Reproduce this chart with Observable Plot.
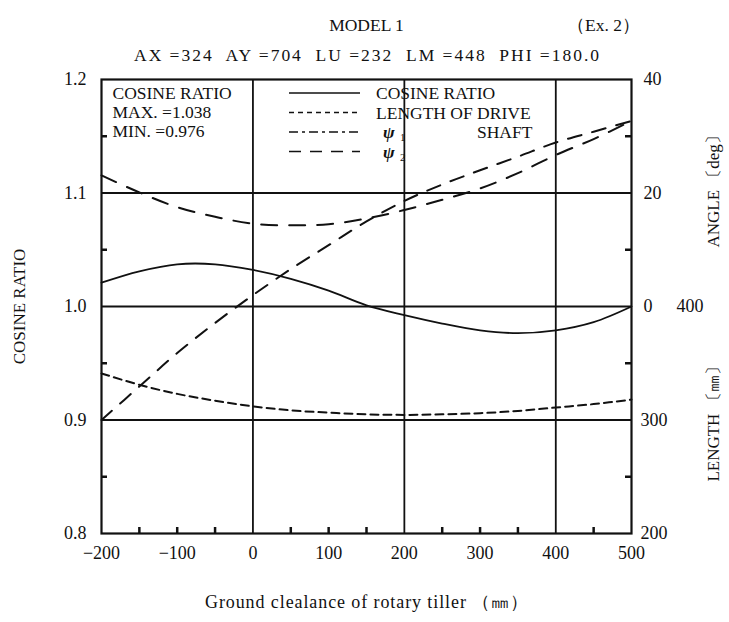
<!DOCTYPE html>
<html><head><meta charset="utf-8">
<script src="https://cdn.jsdelivr.net/npm/d3@7"></script>
<script src="https://cdn.jsdelivr.net/npm/@observablehq/plot@0.6"></script>
<style>body{margin:0;background:#fff}</style>
</head><body><div id="chart"></div>
<script>
// ---- data ----
const groundClearance = [-200,-150,-100,-50,0,50,100,150,200,250,300,350,400,450,500];
const cosineRatio     = [1.021,1.031,1.0372,1.0372,1.0322,1.0244,1.014,1.001,0.9924,0.985,0.979,0.9765,0.9790,0.9862,1.000];
const driveShaftLength= [341,331,323,317,312,308.5,306.5,305,304.5,305,306,308,311,314,318];
const psi1            = [-20,-14.1,-8.2,-2.9,2.0,6.6,10.8,15.0,18.6,21.5,24.0,26.4,28.9,30.8,32.7];
const psi2            = [23.1,20.1,17.5,15.8,14.6,14.3,14.5,15.5,17.0,18.8,20.8,23.5,26.7,29.5,32.7];
const xTicks = [-200,-100,0,100,200,300,400,500];
const xMinorTicks = [-150,-100,-50,50,100,150,250,300,350,450];
const cosTicks = [0.8,0.9,1.0,1.1,1.2];
const cosMinorTicks = [0.85,0.95,1.05,1.15];
const angleTicks = [0,20,40];
const lengthTicks = [200,300];
const lengthTickShared = [400];
const gridX = [0,200,400];
const gridY = [0.9,1.0,1.1];
const summaryLines = ["COSINE RATIO","MAX. =1.038","MIN. =0.976"];
const titleText = "MODEL 1";
const exText = "（Ex. 2）";
const subtitleText = "AX =324  AY =704  LU =232  LM =448  PHI =180.0";
const xLabel = "Ground clealance of rotary tiller （㎜）";
const yLabel = "COSINE RATIO";
const angleLabel = "ANGLE 〔deg〕";
const lengthLabel = "LENGTH 〔㎜〕";

const angleToCos = a => 1 + a / 200;
const lengthToCos = L => 1 + (L - 400) / 1000;
const cosToAngle = c => String(Math.round((c - 1) * 200));
const cosToLength = c => String(Math.round((c - 1) * 1000 + 400));

const rows = groundClearance.map((x, i) => ({
  x, cos: cosineRatio[i], len: lengthToCos(driveShaftLength[i]),
  p1: angleToCos(psi1[i]), p2: angleToCos(psi2[i])
}));

const FONT = "Liberation Serif, DejaVu Serif, serif";
const W = 729, H = 622, ML = 101, MR = 98, MT = 79, MB = 89;
const frameW = W - ML - MR, frameH = H - MT - MB, TICK = 6;

const chart = Plot.plot({
  width: W, height: H,
  marginLeft: ML, marginRight: MR, marginTop: MT, marginBottom: MB,
  x: {domain: [-200, 500]},
  y: {domain: [0.8, 1.2]},
  style: {fontFamily: FONT, fontSize: "18px", color: "#111", background: "#fff"},
  marks: [
    Plot.ruleX(gridX, {stroke: "#111", strokeWidth: 1.8}),
    Plot.ruleY(gridY, {stroke: "#111", strokeWidth: 1.8}),
    // small inward ticks
    Plot.ruleX(xMinorTicks, {x: d => d, stroke: "#111", strokeWidth: 2.5, insetTop: frameH - TICK}),
    Plot.ruleY(cosMinorTicks, {y: d => d, stroke: "#111", strokeWidth: 2.5, insetRight: frameW - TICK}),
    Plot.ruleY(cosMinorTicks, {y: d => d, stroke: "#111", strokeWidth: 2.5, insetLeft: frameW - TICK}),
    Plot.line(rows, {x: "x", y: "cos", curve: "catmull-rom", stroke: "#111", strokeWidth: 1.8}),
    Plot.line(rows, {x: "x", y: "len", curve: "catmull-rom", stroke: "#111", strokeWidth: 2, strokeDasharray: "8,5"}),
    Plot.line(rows, {x: "x", y: "p1", curve: "catmull-rom", stroke: "#111", strokeWidth: 2, strokeDasharray: "14,11"}),
    Plot.line(rows, {x: "x", y: "p2", curve: "catmull-rom", stroke: "#111", strokeWidth: 2, strokeDasharray: "16,12"}),
    Plot.frame({stroke: "#111", strokeWidth: 2.2}),
    // bottom axis
    Plot.axisX({ticks: xTicks, tickSize: 0, tickPadding: 13, label: null, fontSize: 18}),
    // left axis
    Plot.axisY({ticks: cosTicks, tickFormat: d3.format(".1f"), tickSize: 0, tickPadding: 15, label: null, fontSize: 18}),
    // right axes
    Plot.axisY({anchor: "right", ticks: angleTicks.map(angleToCos), tickFormat: cosToAngle, tickSize: 0, tickPadding: 12, label: null, fontSize: 18}),
    Plot.axisY({anchor: "right", ticks: lengthTicks.map(lengthToCos), tickFormat: cosToLength, tickSize: 0, tickPadding: 9, label: null, fontSize: 18}),
    Plot.axisY({anchor: "right", ticks: lengthTickShared.map(lengthToCos), tickFormat: cosToLength, tickSize: 0, tickPadding: 45, label: null, fontSize: 18}),
    // axis titles
    Plot.text([yLabel], {frameAnchor: "left", dx: -82, rotate: -90, fontSize: 17, textAnchor: "middle"}),
    Plot.text([1.105], {y: d => d, text: () => angleLabel, frameAnchor: "right", dx: 82, rotate: -90, fontSize: 17, textAnchor: "middle"}),
    Plot.text([0.9], {y: d => d, text: () => lengthLabel, frameAnchor: "right", dx: 82, rotate: -90, fontSize: 17, textAnchor: "middle"}),
    Plot.text([xLabel], {frameAnchor: "bottom", dy: 74, fontSize: 18, textAnchor: "middle"}),
    // titles
    Plot.text([titleText], {frameAnchor: "top", dy: -61, dx: 0, fontSize: 17.5, textAnchor: "middle"}),
    Plot.text([exText], {frameAnchor: "top", dy: -61, dx: 237, fontSize: 17.5, textAnchor: "middle"}),
    Plot.text([subtitleText], {frameAnchor: "top", dy: -31, dx: 0, fontSize: 17.5, textAnchor: "middle"}),
    // summary box text
    Plot.text([summaryLines.join("\n")], {frameAnchor: "top-left", dx: 11, dy: 6, textAnchor: "start", lineAnchor: "top", lineHeight: 1.09, fontSize: 17.5})
  ]
});

const svg = d3.select(chart);
// stretch some texts to the widths seen in the reference
function fit(str, width) {
  svg.selectAll("text").filter(function () { return this.textContent === str; })
    .attr("textLength", width).attr("lengthAdjust", "spacing");
}
fit(subtitleText, 465);
fit(xLabel, 323);

// legend (layout only, not data)
const legendItems = [
  {label: "COSINE RATIO", dash: null},
  {label: "LENGTH OF DRIVE", dash: "5,4"},
  {label: "ψ", sub: "1", dash: "9,4,3,4", extra: "SHAFT"},
  {label: "ψ", sub: "2", dash: "12,9"}
];
const lg = svg.append("g").attr("font-family", FONT).attr("font-size", 17.5)
  .attr("fill", "#111").attr("text-anchor", "start");
legendItems.forEach((it, i) => {
  const y = 93 + i * 19.5;
  lg.append("line").attr("x1", 289).attr("x2", 360).attr("y1", y).attr("y2", y)
    .attr("stroke", "#111").attr("stroke-width", 1.7).attr("stroke-dasharray", it.dash);
  if (it.sub) {
    lg.append("text").attr("x", 383).attr("y", y + 6).attr("font-style", "italic").attr("font-weight", "bold").text(it.label);
    lg.append("text").attr("x", 400).attr("y", y + 9).attr("font-size", 11).text(it.sub);
  } else {
    lg.append("text").attr("x", 376).attr("y", y + 6).text(it.label);
  }
  if (it.extra) lg.append("text").attr("x", 477).attr("y", y + 6).text(it.extra);
});

document.getElementById("chart").appendChild(chart);
</script></body></html>
